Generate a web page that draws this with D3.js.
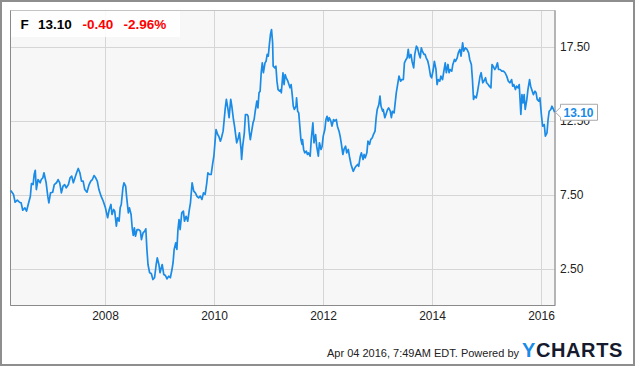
<!DOCTYPE html>
<html><head><meta charset="utf-8">
<script src="https://cdn.jsdelivr.net/npm/d3@7"></script>
<style>
html,body{margin:0;padding:0;background:#fff;}
svg{display:block;font-family:"Liberation Sans",Arial,sans-serif;}
</style></head>
<body>
<svg id="chart" width="635" height="366"></svg>
<script>
// ---- data (decimal years, closing price in USD) ----
const dates = [
2006.26,2006.31,2006.34,2006.38,2006.42,2006.45,2006.48,2006.52,2006.55,2006.58,2006.62,2006.64,2006.67,2006.69,2006.71,2006.73,2006.76,2006.80,2006.82,2006.85,2006.87,2006.91,2006.94,2006.96,2006.99,
2007.03,2007.06,2007.10,2007.13,2007.16,2007.19,2007.22,2007.25,2007.28,2007.32,2007.35,2007.38,2007.41,2007.44,2007.47,2007.50,2007.53,2007.56,2007.59,2007.62,2007.66,2007.70,2007.73,2007.76,2007.79,2007.82,2007.85,2007.88,2007.92,2007.96,
2008.00,2008.04,2008.07,2008.10,2008.12,2008.15,2008.17,2008.20,2008.22,2008.25,2008.27,2008.29,2008.32,2008.34,2008.37,2008.39,2008.42,2008.44,2008.47,2008.49,2008.51,2008.53,2008.55,2008.58,2008.61,2008.64,2008.66,2008.69,2008.72,2008.74,2008.76,2008.78,2008.81,2008.84,2008.87,2008.90,2008.93,2008.95,2008.98,
2009.00,2009.04,2009.07,2009.10,2009.13,2009.16,2009.19,2009.22,2009.24,2009.26,2009.29,2009.31,2009.33,2009.35,2009.37,2009.40,2009.43,2009.45,2009.48,2009.51,2009.54,2009.56,2009.59,2009.62,2009.65,2009.68,2009.71,2009.74,2009.77,2009.80,2009.83,2009.86,2009.88,2009.91,2009.94,2009.97,2009.99,
2010.01,2010.03,2010.06,2010.08,2010.11,2010.13,2010.16,2010.18,2010.20,2010.22,2010.25,2010.27,2010.30,2010.32,2010.35,2010.37,2010.39,2010.41,2010.44,2010.46,2010.49,2010.50,2010.52,2010.55,2010.57,2010.60,2010.62,2010.64,2010.66,2010.68,2010.71,2010.73,2010.75,2010.78,2010.80,2010.82,2010.84,2010.86,2010.88,2010.90,2010.93,2010.95,2010.97,2010.99,
2011.01,2011.03,2011.05,2011.07,2011.08,2011.11,2011.13,2011.15,2011.17,2011.20,2011.22,2011.23,2011.26,2011.28,2011.30,2011.32,2011.35,2011.37,2011.39,2011.41,2011.43,2011.45,2011.47,2011.50,2011.51,2011.53,2011.55,2011.57,2011.59,2011.61,2011.62,2011.64,2011.66,2011.69,2011.71,2011.73,2011.76,2011.78,2011.81,2011.83,2011.86,2011.88,2011.91,2011.93,2011.96,2011.98,
2012.00,2012.03,2012.05,2012.07,2012.09,2012.11,2012.14,2012.16,2012.19,2012.21,2012.24,2012.26,2012.29,2012.31,2012.33,2012.36,2012.38,2012.41,2012.43,2012.46,2012.48,2012.51,2012.53,2012.55,2012.58,2012.60,2012.63,2012.65,2012.68,2012.70,2012.73,2012.75,2012.77,2012.80,2012.82,2012.85,2012.87,2012.90,2012.92,2012.95,2012.97,2012.99,
2013.02,2013.04,2013.06,2013.09,2013.10,2013.13,2013.15,2013.18,2013.20,2013.23,2013.25,2013.27,2013.30,2013.32,2013.34,2013.37,2013.39,2013.42,2013.44,2013.47,2013.49,2013.52,2013.54,2013.56,2013.58,2013.61,2013.63,2013.66,2013.68,2013.71,2013.73,2013.76,2013.78,2013.80,2013.82,2013.85,2013.87,2013.89,2013.92,2013.94,2013.97,2013.99,
2014.02,2014.04,2014.07,2014.09,2014.11,2014.14,2014.16,2014.19,2014.21,2014.24,2014.26,2014.29,2014.31,2014.33,2014.36,2014.38,2014.41,2014.43,2014.46,2014.48,2014.51,2014.53,2014.56,2014.58,2014.61,2014.64,2014.67,2014.69,2014.72,2014.74,2014.76,2014.78,2014.81,2014.83,2014.86,2014.88,2014.90,2014.93,2014.95,2014.98,
2015.00,2015.03,2015.05,2015.08,2015.10,2015.12,2015.15,2015.17,2015.20,2015.22,2015.25,2015.28,2015.31,2015.34,2015.37,2015.40,2015.43,2015.46,2015.48,2015.50,2015.53,2015.55,2015.58,2015.60,2015.63,2015.65,2015.67,2015.69,2015.71,2015.74,2015.76,2015.79,2015.81,2015.84,2015.86,2015.89,2015.91,2015.93,2015.96,2015.98,
2016.01,2016.03,2016.06,2016.08,2016.11,2016.13,2016.15,2016.18,2016.20,2016.23,2016.25
];
const prices = [
7.80,7.53,7.00,7.14,7.00,6.96,6.46,6.62,6.40,6.85,7.41,8.27,8.20,8.88,9.17,7.86,8.54,8.32,8.54,8.66,9.00,8.32,7.41,6.96,7.64,
7.68,8.20,8.32,8.54,8.32,7.64,8.09,8.20,7.98,8.20,8.66,8.77,8.32,8.66,9.00,9.29,9.00,8.43,8.43,7.86,7.68,8.20,8.43,8.54,8.81,8.66,8.43,7.86,7.41,7.07,
6.62,5.95,6.51,6.85,6.17,6.51,6.40,5.38,5.95,5.72,6.62,6.85,7.98,8.32,8.09,7.30,6.28,6.62,6.17,5.27,4.75,5.27,4.70,5.15,5.15,5.04,4.47,4.93,5.04,5.20,3.80,2.78,2.22,2.17,1.76,1.88,2.78,3.23,2.78,
2.22,2.78,2.10,2.03,1.81,1.99,1.88,2.44,2.90,3.80,4.25,3.80,5.15,5.83,5.15,6.28,6.40,5.72,6.05,5.72,6.51,6.96,8.32,7.75,7.64,7.40,7.30,7.41,7.19,7.64,7.53,8.32,9.00,8.88,8.88,9.67,10.12,
11.03,11.93,11.59,11.48,11.14,11.37,11.82,12.61,13.40,13.97,13.29,12.73,13.97,13.51,12.61,12.16,11.59,11.03,11.37,11.71,10.58,9.90,10.80,11.71,12.95,12.95,12.83,11.82,11.25,11.71,12.39,12.61,13.17,13.85,13.40,14.42,14.53,15.78,16.45,15.78,16.45,16.56,17.02,16.90,
17.69,18.37,18.71,17.81,16.23,16.11,16.23,15.21,14.64,14.53,14.64,14.42,15.78,14.98,15.66,15.44,15.21,14.98,14.76,14.98,14.30,13.51,13.29,13.51,14.08,13.17,13.06,12.16,11.25,10.92,11.25,10.58,10.35,10.46,10.24,10.35,10.12,11.25,12.39,11.03,11.59,10.80,10.12,11.03,10.58,10.80,
11.48,11.93,12.61,12.83,12.50,12.73,12.50,12.16,12.61,12.50,12.61,12.16,11.82,11.48,11.03,10.24,10.58,10.80,10.35,10.58,10.12,9.56,9.33,9.10,9.33,9.44,9.56,9.44,10.12,10.35,9.90,10.24,10.01,10.35,11.14,10.92,11.25,11.37,11.59,11.82,12.72,13.29,
13.62,14.19,13.51,13.17,13.29,12.73,12.95,13.29,13.40,13.17,12.73,13.17,13.06,13.74,14.42,15.10,15.55,15.21,15.32,15.32,16.45,16.68,16.79,17.36,16.79,17.02,16.56,16.11,17.02,17.58,17.47,17.02,16.79,17.47,17.25,17.02,17.02,16.79,16.56,16.23,15.55,15.44,
16.00,16.56,16.00,14.98,15.32,15.21,15.55,15.32,15.78,16.45,15.78,16.34,15.78,16.00,15.89,16.34,16.68,16.56,16.79,17.13,17.36,16.90,17.81,17.25,17.47,17.36,17.13,16.68,16.34,15.32,13.97,14.19,14.08,14.42,15.10,15.55,15.78,15.10,15.21,15.44,
15.10,14.98,14.87,14.76,16.34,16.23,16.00,16.11,16.45,16.00,16.00,15.89,15.89,15.78,15.55,15.21,15.10,15.32,14.87,14.98,14.64,14.87,14.76,14.98,12.95,14.30,13.74,14.30,13.29,13.97,14.64,15.32,14.87,14.53,14.30,14.53,14.42,13.97,13.85,14.08,
12.83,12.16,12.27,11.48,11.71,12.61,13.17,13.29,13.51,13.29,13.10
];
const yTickValues = [2.5, 7.5, 12.5, 17.5];
const xTickYears = [2008, 2010, 2012, 2014, 2016];
const ticker = "F";
const lastPrice = "13.10";
const change = "-0.40";
const changePct = "-2.96%";
const lastValue = 13.10;
const footerText = "Apr 04 2016, 7:49AM EDT.  Powered by";
const startDate = Date.UTC(2006, 3, 4);
const endDate = Date.UTC(2016, 3, 4);

function decToDate(d) {
  const y = Math.floor(d);
  const s = Date.UTC(y, 0, 1), e = Date.UTC(y + 1, 0, 1);
  return new Date(s + (d - y) * (e - s));
}
const series = dates.map((d, i) => ({ date: decToDate(d), value: prices[i] }));

const svg = d3.select("#chart");
const W = 635, H = 366;
const plot = { left: 10.5, right: 555, top: 10.5, bottom: 305.5 };

// outer frame
svg.append("rect").attr("x", 1).attr("y", 1).attr("width", W - 2).attr("height", H - 2)
  .attr("fill", "#fff").attr("stroke", "#8e8e8e").attr("stroke-width", 2);

const x = d3.scaleUtc().domain([new Date(startDate), new Date(endDate)]).range([plot.left, plot.right]);
const y = d3.scaleLinear().domain([0, 20]).range([plot.bottom, plot.top]);
const xr = x.copy().interpolate(d3.interpolateRound);
const yr = y.copy().interpolate(d3.interpolateRound);

// plot background
svg.append("rect").attr("x", plot.left).attr("y", plot.top)
  .attr("width", plot.right - plot.left).attr("height", plot.bottom - plot.top)
  .attr("fill", "#f7f7f7");

// gridlines
const xTicks = xTickYears.map(yy => new Date(Date.UTC(yy, 0, 1)));
const gx = svg.append("g").attr("transform", `translate(0,${plot.top})`)
  .call(d3.axisBottom(xr).tickValues(xTicks).tickSize(plot.bottom - plot.top).tickFormat(""));
gx.select(".domain").remove();
gx.selectAll("line").attr("stroke", "#d6d6d6");

const gy = svg.append("g").attr("transform", `translate(${plot.left},0)`)
  .call(d3.axisRight(yr).tickValues(yTickValues).tickSize(plot.right - plot.left).tickFormat(""));
gy.select(".domain").remove();
gy.selectAll("line").attr("stroke", "#d6d6d6");

// plot frame
svg.append("rect").attr("x", plot.left).attr("y", plot.top)
  .attr("width", plot.right - plot.left).attr("height", plot.bottom - plot.top)
  .attr("fill", "none").attr("stroke", "#c4c4c4");
svg.append("path").attr("d", `M${plot.left},${plot.top}V${plot.bottom}H${plot.right}V${plot.top}`)
  .attr("fill", "none").attr("stroke", "#8a8a8a");

// line
const line = d3.line().x(d => x(d.date)).y(d => y(d.value));
svg.append("path").datum(series).attr("d", line)
  .attr("fill", "none").attr("stroke", "#1a8be6").attr("stroke-width", 1.7)
  .attr("stroke-linejoin", "round");

// x axis labels
const ax = svg.append("g").attr("transform", `translate(0,${plot.bottom})`)
  .call(d3.axisBottom(xr).tickValues(xTicks).tickSize(0).tickPadding(6).tickFormat(d3.utcFormat("%Y")));
ax.select(".domain").remove();
ax.selectAll("text").attr("font-size", 12).attr("fill", "#222").attr("font-family", "Liberation Sans, Arial, sans-serif");

// y axis labels
const ay = svg.append("g").attr("transform", `translate(${plot.right},0)`)
  .call(d3.axisRight(yr).tickValues(yTickValues).tickSize(0).tickPadding(5).tickFormat(d3.format(".2f")));
ay.select(".domain").remove();
ay.selectAll("text").attr("font-size", 12).attr("fill", "#222").attr("font-family", "Liberation Sans, Arial, sans-serif");

// header box
svg.append("rect").attr("x", plot.left + 0.5).attr("y", plot.top + 0.5).attr("width", 169).attr("height", 26)
  .attr("fill", "#fff").attr("fill-opacity", 0.85);
const hdr = svg.append("g").attr("font-weight", "bold").attr("font-size", 13.5);
hdr.append("text").attr("x", 20.5).attr("y", 28.5).attr("fill", "#000").text(ticker);
hdr.append("text").attr("x", 38).attr("y", 28.5).attr("fill", "#000").text(lastPrice);
hdr.append("text").attr("x", 82.5).attr("y", 28.5).attr("fill", "#f00").text(change);
hdr.append("text").attr("x", 123.5).attr("y", 28.5).attr("fill", "#f00").text(changePct);

// last value flag
const yv = y(lastValue);
const fx = plot.right + 0.5;
svg.append("path")
  .attr("d", `M${fx},${yv}L${fx + 5},${yv - 5}V${yv - 8}H${fx + 42}V${yv + 8}H${fx + 5}V${yv + 5}Z`)
  .attr("fill", "#fff").attr("stroke", "#a8a8a8");
svg.append("text").attr("x", fx + 8).attr("y", yv + 4.5)
  .attr("font-size", 12).attr("font-weight", "bold").attr("fill", "#1a8be6").text(lastPrice);

// footer
svg.append("text").attr("x", 519).attr("y", 356.5).attr("text-anchor", "end")
  .attr("font-size", 11).attr("fill", "#222").text(footerText);
const logo = svg.append("text").attr("x", 522).attr("y", 356.5)
  .attr("font-size", 20).attr("font-weight", "bold").attr("letter-spacing", 0.6)
  .attr("font-family", "Liberation Sans, Arial, sans-serif");
logo.append("tspan").attr("fill", "#1a8be6").text("Y");
logo.append("tspan").attr("fill", "#161a2e").text("CHARTS");
</script>
</body></html>
